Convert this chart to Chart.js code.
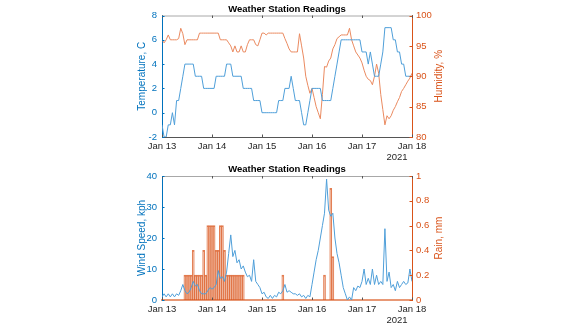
<!DOCTYPE html>
<html><head><meta charset="utf-8">
<script src="https://cdn.jsdelivr.net/npm/chart.js@4/dist/chart.umd.min.js"></script>
<style>
html,body{margin:0;padding:0;background:#fff;width:580px;height:330px;overflow:hidden}
#c1{position:absolute;left:0;top:0}
#c2{position:absolute;left:0;top:160px}
</style></head><body>
<canvas id="c1" width="580" height="165"></canvas>
<canvas id="c2" width="580" height="170"></canvas>
<script>
// ---- data (hourly readings, Jan 13 00:00 .. Jan 18 00:00) ----
const dayLabels = ['Jan 13','Jan 14','Jan 15','Jan 16','Jan 17','Jan 18'];
const yearLabel = '2021';
const chartTitle = 'Weather Station Readings';
const tempTicks = [-2,0,2,4,6,8];
const humTicks = [80,85,90,95,100];
const windTicks = [0,10,20,30,40];
const rainTicks = [0,0.2,0.4,0.6,0.8,1];

const temperature = [-1,-2,-2,-1,-1,0,-1,1,1,2,
 3,4,4,4,4,4,3,3,3,3,
 2,2,2,2,2,2,3,3,3,3,
 3,4,4,4,3,3,3,3,3,2,
 2,2,2,2,1,1,1,1,0,0,
 0,0,0,0,0,0,1,1,1,2,
 2,2,3,2,1,1,1,0,-1,-1,
 0,1,2,2,2,2,2,1,1,1,
 1,1,2,3,4,5,6,6,6,6,
 6,6,6,6,6,6,5,5,5,4,
 5,4,3,3,3,4,5,7,7,7,
 7,6,6,5,5,4,4,3,3,3,
 3];

const humidity = [96,95.5,96,96.8,96,96,96,96,96.2,97.9,
 97,95.2,96,96,96,96,96,96,97.1,97.1,
 97.1,97.1,97.1,97.1,97.1,97.1,97.1,97.1,96,96,
 96,96,95.5,95,94,95,94,94,95,94,
 94,95.2,96,96,96,95.2,95,96,97.1,97.1,
 96.8,97.1,97.1,97.1,97.1,97.1,97.1,97.1,97.1,96.2,
 95.4,94.5,94,94,94,94,97,95,93,90,
 88.5,87.2,88,86.5,85,84,83,87,91.6,91.5,
 92.5,93,94.5,95.2,96.2,96.5,96.8,96.8,96.8,96.8,
 97.9,96,95,94,93.5,93,92.2,91,90,89.5,
 89.3,88.6,90,92,90.5,87,84.5,82,83.5,83,
 83.5,84.4,85,85.8,86.5,87.5,88,88.6,89.2,89.7,
 90.5];

const windSpeed = [1,2,1,2,1,2,1,2,1.5,3,
 5,3,2,2.5,4,6,4.5,5,3,2,
 2,2,3,4,3.5,4,5,9.5,7,7.5,
 6,9,15,21,14,16,12,13,10,11,
 9,7.5,8,6,13,6,5,4,2,2.5,
 1,0.5,1.5,0.5,1.5,1,2.5,2,3,5,
 2.5,3,2.5,2,2,1.5,2,1,1.5,0.5,
 1.5,1,5,9,13,16,20,24,28,39,
 29,27,28,20,15,12,8,4,2,0,
 1,0,4,3,4.5,4,6,10,5,7,
 5,10,5,8,5,6,5,23,6,9,
 4,5,3,6,4,5,6,5,5.5,10,
 6];

const rain = [0,0,0,0,0,0,0,0,0,0,
 0,0.2,0.2,0.2,0.2,0.4,0.2,0.2,0.2,0.2,
 0.4,0.2,0.6,0.6,0.6,0.6,0.4,0.4,0.6,0.6,
 0.4,0.2,0.2,0.2,0.2,0.2,0.2,0.2,0.2,0.2,
 0,0,0,0,0,0,0,0,0,0,
 0,0,0,0,0,0,0,0,0.2,0,
 0,0,0,0,0,0,0,0,0,0,
 0,0,0,0,0,0,0,0,0.2,0,
 0,0.9,0.35,0,0,0,0,0,0,0,
 0,0,0,0,0,0,0,0,0,0,
 0,0,0,0,0,0,0,0,0,0,
 0,0,0,0,0,0,0,0,0,0,
 0];

// ---- styling ----
const FONT = '"Liberation Sans", Arial, Helvetica, sans-serif';
const BLUE = '#0072BD', ORANGE = '#D95319';
const BLUE_LINE = '#4f9fd9', ORANGE_LINE = '#ea8a60';
const HOURS_PER_DAY = 24;

const pts = arr => arr.map((v, i) => ({x: i, y: v}));

const decor = {
  id: 'decor',
  afterDraw(chart, args, o) {
    const {ctx, chartArea: a, scales} = chart;
    ctx.save();
    // top box edge
    ctx.strokeStyle = '#a8a8a8'; ctx.lineWidth = 1;
    ctx.beginPath(); ctx.moveTo(a.left, a.top + 0.5); ctx.lineTo(a.right, a.top + 0.5); ctx.stroke();
    // inside tick marks
    const tl = 2.5;
    ctx.strokeStyle = '#555';
    scales.x.ticks.forEach(t => {
      const px = Math.round(scales.x.getPixelForValue(t.value)) + 0.5;
      ctx.beginPath();
      ctx.moveTo(px, a.bottom); ctx.lineTo(px, a.bottom - tl);
      ctx.moveTo(px, a.top); ctx.lineTo(px, a.top + tl);
      ctx.stroke();
    });
    ctx.strokeStyle = BLUE;
    scales.y.ticks.forEach(t => {
      const py = Math.round(scales.y.getPixelForValue(t.value)) + 0.5;
      ctx.beginPath(); ctx.moveTo(a.left, py); ctx.lineTo(a.left + tl, py); ctx.stroke();
    });
    ctx.strokeStyle = ORANGE;
    scales.y1.ticks.forEach(t => {
      const py = Math.round(scales.y1.getPixelForValue(t.value)) + 0.5;
      ctx.beginPath(); ctx.moveTo(a.right, py); ctx.lineTo(a.right - tl, py); ctx.stroke();
    });
    // title
    ctx.fillStyle = '#000';
    ctx.font = 'bold 9.5px ' + FONT;
    ctx.textAlign = 'center'; ctx.textBaseline = 'alphabetic';
    ctx.fillText(o.title, (a.left + a.right) / 2, a.top - 4);
    // axis titles
    const cy = (a.top + a.bottom) / 2;
    ctx.font = '10px ' + FONT;
    ctx.textBaseline = 'middle';
    ctx.save(); ctx.translate(a.left - 20, cy); ctx.rotate(-Math.PI / 2);
    ctx.fillStyle = BLUE; ctx.fillText(o.left, 0, 0); ctx.restore();
    ctx.save(); ctx.translate(a.right + 27, cy); ctx.rotate(-Math.PI / 2);
    ctx.fillStyle = ORANGE; ctx.fillText(o.right, 0, 0); ctx.restore();
    // year label
    ctx.fillStyle = '#262626'; ctx.font = '9.5px ' + FONT;
    ctx.fillText(yearLabel, a.right - 15, a.bottom + 20);
    ctx.restore();
  }
};

function xScale(h, borderColor, borderWidth) {
  return {
    type: 'linear', min: 0, max: HOURS_PER_DAY * (dayLabels.length - 1), offset: false,
    afterBuildTicks: s => { s.ticks = dayLabels.map((_, i) => ({value: i * HOURS_PER_DAY})); },
    ticks: {callback: v => dayLabels[Math.round(v / HOURS_PER_DAY)], color: '#262626',
            font: {size: 9.5, family: FONT}, padding: 4, maxRotation: 0, autoSkip: false},
    grid: {display: false, drawTicks: false, offset: false},
    border: {color: borderColor, width: borderWidth},
    afterFit: s => { s.height = h; }
  };
}
function yScale(pos, min, max, tickVals, color, w) {
  return {
    type: 'linear', position: pos, min, max,
    afterBuildTicks: s => { s.ticks = tickVals.map(v => ({value: v})); },
    ticks: {color, font: {size: 9.5, family: FONT}, padding: pos === 'left' ? 5 : 4,
            callback: v => String(v)},
    grid: {display: false, drawTicks: false},
    border: {color, width: 1},
    afterFit: s => { s.width = w; }
  };
}

new Chart(document.getElementById('c1'), {
  type: 'line',
  data: {datasets: [
    {data: pts(temperature), yAxisID: 'y', borderColor: BLUE_LINE, borderWidth: 1, pointRadius: 0, tension: 0},
    {data: pts(humidity), yAxisID: 'y1', borderColor: ORANGE_LINE, borderWidth: 1, pointRadius: 0, tension: 0}
  ]},
  options: {
    responsive: false, animation: false, events: [],
    layout: {padding: {top: 15.5, left: 0, right: 0, bottom: 0}},
    plugins: {legend: {display: false}, tooltip: {enabled: false},
      decor: {title: chartTitle, left: 'Temperature, C', right: 'Humidity, %'}},
    scales: {
      x: xScale(28, '#555', 1),
      y: yScale('left', -2, 8, tempTicks, BLUE, 162),
      y1: yScale('right', 80, 100, humTicks, ORANGE, 168)
    }
  },
  plugins: [decor]
});

new Chart(document.getElementById('c2'), {
  type: 'line',
  data: {datasets: [
    {type: 'bar', data: pts(rain), yAxisID: 'y1', backgroundColor: 'rgba(217,83,25,0.25)',
     borderColor: 'rgba(217,83,25,0.75)', borderWidth: 1, barPercentage: 1, categoryPercentage: 1, order: 2},
    {data: pts(windSpeed), yAxisID: 'y', borderColor: BLUE_LINE, borderWidth: 1, pointRadius: 0, tension: 0, order: 1}
  ]},
  options: {
    responsive: false, animation: false, events: [],
    layout: {padding: {top: 16, left: 0, right: 0, bottom: 0}},
    plugins: {legend: {display: false}, tooltip: {enabled: false},
      decor: {title: chartTitle, left: 'Wind Speed, kph', right: 'Rain, mm'}},
    scales: {
      x: xScale(30, 'rgba(217,83,25,0.6)', 2),
      y: yScale('left', 0, 40, windTicks, BLUE, 162),
      y1: yScale('right', 0, 1, rainTicks, ORANGE, 168)
    }
  },
  plugins: [decor]
});
</script>
</body></html>
